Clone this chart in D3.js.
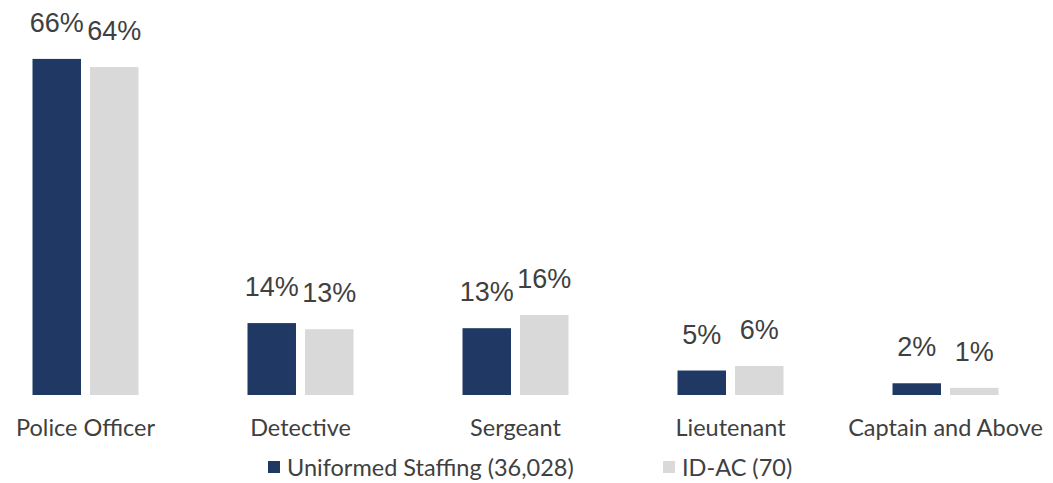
<!DOCTYPE html>
<html>
<head>
<meta charset="utf-8">
<script src="https://cdn.jsdelivr.net/npm/d3@7"></script>
<style>
  body { margin: 0; background: #fff; }
  .value-label { font-family: "Liberation Sans", Arial, sans-serif; font-size: 27px; fill: #404040; }
  .cat-label, .legend-text { font-family: Lato, "Open Sans", sans-serif; font-size: 23.5px; fill: #404040; }
</style>
</head>
<body>
<div id="chart"></div>
<script>
const categories = ['Police Officer', 'Detective', 'Sergeant', 'Lieutenant', 'Captain and Above']
const seriesNames = ['Uniformed Staffing (36,028)', 'ID-AC (70)']
const uniformed = [65.9, 14.1, 13.1, 4.8, 2.3]
const idac = [64.3, 12.9, 15.7, 5.7, 1.4]
const valueLabels = [
  ['66%', '14%', '13%', '5%', '2%'],
  ['64%', '13%', '16%', '6%', '1%']
]
const colors = ['#1f3864', '#d9d9d9']

const width = 1053, height = 483
const baseline = 395

const svg = d3.select('#chart')
  .append('svg')
  .attr('width', width)
  .attr('height', height)

const x = d3.scaleBand()
  .domain(categories)
  .range([-22, 1053])
  .paddingInner(0.507)
  .paddingOuter(0.2535)

const xInner = d3.scaleBand()
  .domain([0, 1])
  .range([0, x.bandwidth()])
  .paddingInner(0.157)

const y = d3.scaleLinear()
  .domain([0, 70])
  .range([baseline, baseline - 70 * 5.1])

const data = categories.map((c, i) => ({
  cat: c,
  values: [uniformed[i], idac[i]],
  labels: [valueLabels[0][i], valueLabels[1][i]]
}))

const groups = svg.append('g')
  .selectAll('g')
  .data(data)
  .enter().append('g')
  .attr('transform', d => 'translate(' + x(d.cat) + ',0)')

groups.selectAll('rect')
  .data(d => d.values.map((v, s) => ({v, s})))
  .enter().append('rect')
  .attr('x', d => xInner(d.s))
  .attr('width', xInner.bandwidth())
  .attr('y', d => y(d.v))
  .attr('height', d => y(0) - y(d.v))
  .style('fill', d => colors[d.s])

groups.selectAll('text.value-label')
  .data(d => d.values.map((v, s) => ({v, s, label: d.labels[s]})))
  .enter().append('text')
  .attr('class', 'value-label')
  .attr('x', d => xInner(d.s) + xInner.bandwidth() / 2)
  .attr('y', d => y(d.v) - 27)
  .attr('text-anchor', 'middle')
  .text(d => d.label)

// Category axis (no line, no ticks)
const xAxis = svg.append('g')
  .attr('transform', 'translate(0,' + baseline + ')')
  .call(d3.axisBottom(x).tickSize(0).tickPadding(0))
  .call(g => g.select('.domain').remove())

xAxis.selectAll('.tick text')
  .attr('class', 'cat-label')
  .attr('dy', null)
  .attr('y', 41)
  .attr('fill', null)
xAxis.attr('font-family', null).attr('font-size', null)

// Legend
const legendPos = [268, 663]
const legend = svg.selectAll('.legend')
  .data(seriesNames)
  .enter().append('g')
  .attr('class', 'legend')
  .attr('transform', (d, i) => 'translate(' + legendPos[i] + ',461)')

legend.append('rect')
  .attr('width', 12)
  .attr('height', 12)
  .style('fill', (d, i) => colors[i])

legend.append('text')
  .attr('class', 'legend-text')
  .attr('x', 19)
  .attr('y', 15)
  .text(d => d)
</script>
</body>
</html>
